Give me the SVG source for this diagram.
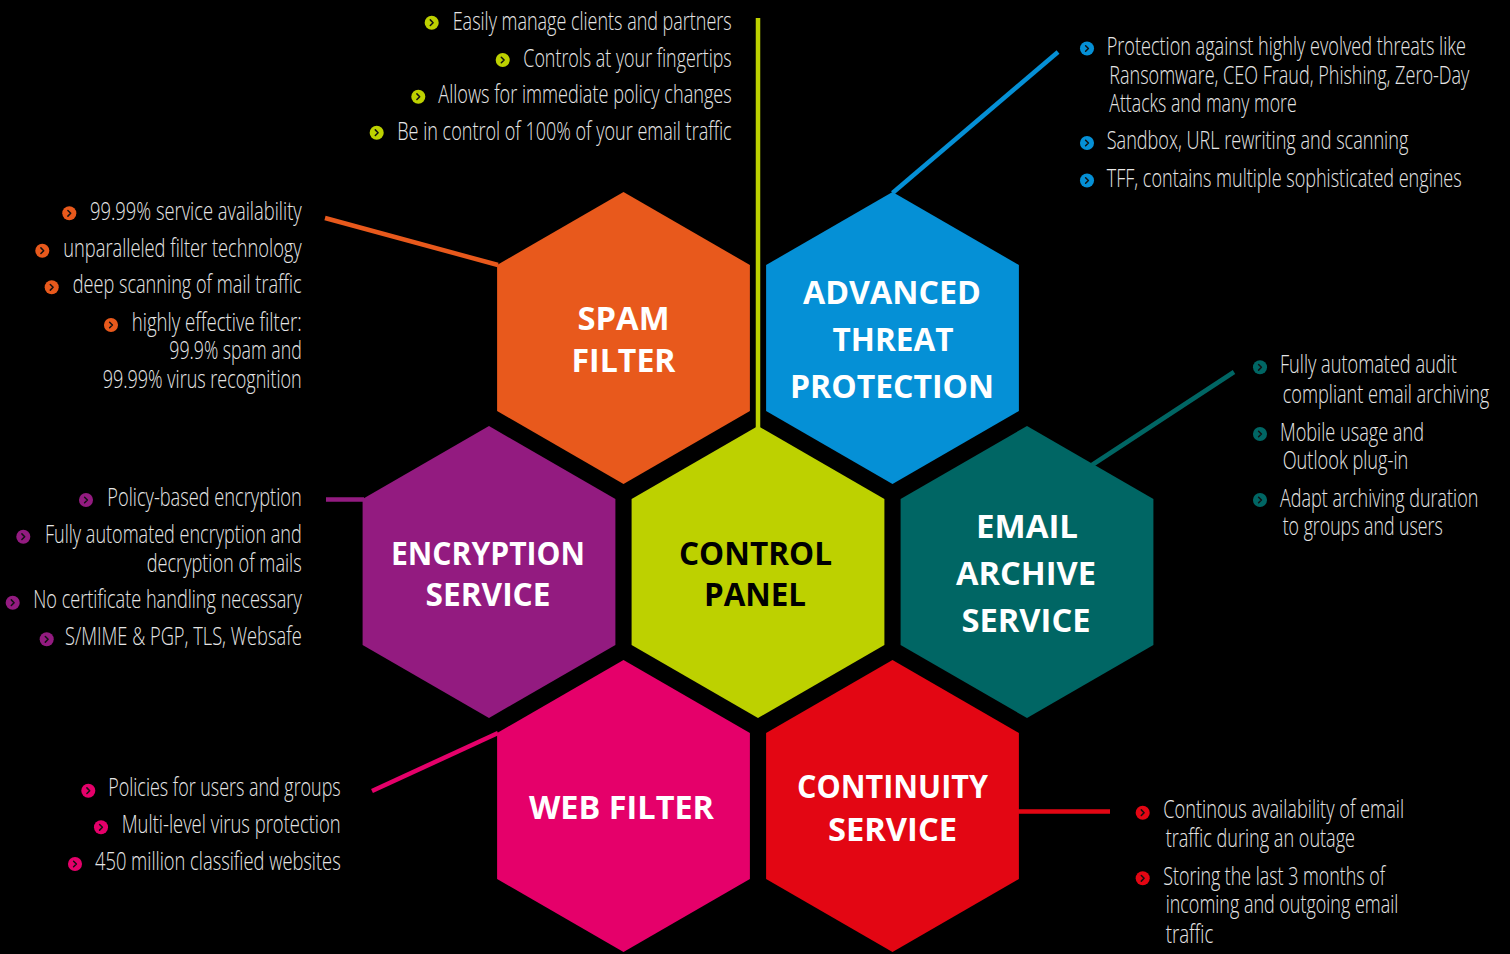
<svg xmlns="http://www.w3.org/2000/svg" width="1510" height="954" viewBox="0 0 1510 954">
<defs>
<style>
.bg{fill:#000}
.hx{stroke:none}
.lbl{font-family:"Open Sans","Liberation Sans",sans-serif;font-weight:700;fill:#fff;text-anchor:middle}
.dk{fill:#000}
.t{font-family:"Open Sans","Liberation Sans",sans-serif;font-weight:300;font-size:25px;fill:#e6e6e6}
.con{fill:none;stroke-width:4.5;stroke-linecap:butt}
.chev{fill:none;stroke:#111;stroke-width:1.6;stroke-linecap:round;stroke-linejoin:round}
</style>
<symbol id="bul" viewBox="-8 -8 16 16" overflow="visible">
<circle cx="0" cy="0" r="7.5" fill="currentColor"/>
<path class="chev" d="M-1.5,-3 L1.5,0 L-1.5,3"/>
</symbol>
</defs>
<rect class="bg" x="0" y="0" width="1510" height="954"/>

<g id="connectors">
<line class="con" stroke="#bdd100" stroke-width="5" x1="758" y1="18" x2="758" y2="428"/>
<line class="con" stroke="#e8591c" x1="325" y1="218" x2="498" y2="265"/>
<line class="con" stroke="#0590d6" x1="1058" y1="52" x2="892.5" y2="193"/>
<line class="con" stroke="#931b80" x1="326" y1="499.5" x2="364" y2="499.5"/>
<line class="con" stroke="#006664" x1="1234" y1="372" x2="1092" y2="465"/>
<line class="con" stroke="#e5006a" x1="372" y1="791" x2="498" y2="733"/>
<line class="con" stroke="#e30613" x1="1017" y1="811.5" x2="1110" y2="811.5"/>
</g>

<g id="spam-filter">
<polygon class="hx" fill="#e8591c" points="623.5,192 749.9,265 749.9,411 623.5,484 497.1,411 497.1,265"/>
<text class="lbl" font-size="33" x="623.5" y="330" textLength="92" lengthAdjust="spacingAndGlyphs">SPAM</text>
<text class="lbl" font-size="33" x="623.5" y="371.5" textLength="104" lengthAdjust="spacingAndGlyphs">FILTER</text>
</g>

<g id="advanced-threat-protection">
<polygon class="hx" fill="#0590d6" points="892.5,192 1018.9,265 1018.9,411 892.5,484 766.1,411 766.1,265"/>
<text class="lbl" font-size="33" x="892" y="303.5" textLength="178" lengthAdjust="spacingAndGlyphs">ADVANCED</text>
<text class="lbl" font-size="33" x="893" y="350.5" textLength="121" lengthAdjust="spacingAndGlyphs">THREAT</text>
<text class="lbl" font-size="33" x="892" y="397.5" textLength="204" lengthAdjust="spacingAndGlyphs">PROTECTION</text>
</g>

<g id="encryption-service">
<polygon class="hx" fill="#931b80" points="489,426 615.4,499 615.4,645 489,718 362.6,645 362.6,499"/>
<text class="lbl" font-size="32" x="488" y="564.5" textLength="194" lengthAdjust="spacingAndGlyphs">ENCRYPTION</text>
<text class="lbl" font-size="32" x="488" y="605.5" textLength="125" lengthAdjust="spacingAndGlyphs">SERVICE</text>
</g>

<g id="control-panel">
<polygon class="hx" fill="#bdd100" points="758,426 884.4,499 884.4,645 758,718 631.6,645 631.6,499"/>
<text class="lbl dk" font-size="32" x="755.5" y="564.5" textLength="153" lengthAdjust="spacingAndGlyphs">CONTROL</text>
<text class="lbl dk" font-size="32" x="755" y="605.5" textLength="102" lengthAdjust="spacingAndGlyphs">PANEL</text>
</g>

<g id="email-archive-service">
<polygon class="hx" fill="#006664" points="1027,426 1153.4,499 1153.4,645 1027,718 900.6,645 900.6,499"/>
<text class="lbl" font-size="32" x="1027" y="537.5" textLength="102" lengthAdjust="spacingAndGlyphs">EMAIL</text>
<text class="lbl" font-size="32" x="1026" y="585" textLength="140" lengthAdjust="spacingAndGlyphs">ARCHIVE</text>
<text class="lbl" font-size="32" x="1026" y="632" textLength="129" lengthAdjust="spacingAndGlyphs">SERVICE</text>
</g>

<g id="web-filter">
<polygon class="hx" fill="#e5006a" points="623.5,660 749.9,733 749.9,879 623.5,952 497.1,879 497.1,733"/>
<text class="lbl" font-size="33" x="621.5" y="819" textLength="185" lengthAdjust="spacingAndGlyphs">WEB FILTER</text>
</g>

<g id="continuity-service">
<polygon class="hx" fill="#e30613" points="892.5,660 1018.9,733 1018.9,879 892.5,952 766.1,879 766.1,733"/>
<text class="lbl" font-size="33" x="892.5" y="798" textLength="191" lengthAdjust="spacingAndGlyphs">CONTINUITY</text>
<text class="lbl" font-size="33" x="892.5" y="841" textLength="129" lengthAdjust="spacingAndGlyphs">SERVICE</text>
</g>

<g id="control-panel-notes" color="#bdd100">
<use href="#bul" x="424.2" y="15.2" width="15" height="15"/>
<use href="#bul" x="495.2" y="52.5" width="15" height="15"/>
<use href="#bul" x="410.8" y="89.2" width="15" height="15"/>
<use href="#bul" x="369.2" y="125.2" width="15" height="15"/>
<text class="t" x="452.7" y="29.5" textLength="279" lengthAdjust="spacingAndGlyphs">Easily manage clients and partners</text>
<text class="t" x="523.3" y="66.5" textLength="208.4" lengthAdjust="spacingAndGlyphs">Controls at your fingertips</text>
<text class="t" x="438.3" y="102.5" textLength="293.4" lengthAdjust="spacingAndGlyphs">Allows for immediate policy changes</text>
<text class="t" x="397.3" y="139.5" textLength="334.4" lengthAdjust="spacingAndGlyphs">Be in control of 100% of your email traffic</text>
</g>

<g id="spam-filter-notes" color="#e8591c">
<use href="#bul" x="61.8" y="205.8" width="15" height="15"/>
<use href="#bul" x="34.8" y="243.2" width="15" height="15"/>
<use href="#bul" x="44.2" y="279.8" width="15" height="15"/>
<use href="#bul" x="103.5" y="317.5" width="15" height="15"/>
<text class="t" x="90" y="220" textLength="211.7" lengthAdjust="spacingAndGlyphs">99.99% service availability</text>
<text class="t" x="63.3" y="256.7" textLength="238.4" lengthAdjust="spacingAndGlyphs">unparalleled filter technology</text>
<text class="t" x="72.7" y="293.3" textLength="229" lengthAdjust="spacingAndGlyphs">deep scanning of mail traffic</text>
<text class="t" x="131.7" y="330.7" textLength="170" lengthAdjust="spacingAndGlyphs">highly effective filter:</text>
<text class="t" x="169.3" y="359.3" textLength="132.4" lengthAdjust="spacingAndGlyphs">99.9% spam and</text>
<text class="t" x="102.7" y="388.3" textLength="199" lengthAdjust="spacingAndGlyphs">99.99% virus recognition</text>
</g>

<g id="atp-notes" color="#0590d6">
<use href="#bul" x="1079.5" y="41" width="15" height="15"/>
<use href="#bul" x="1079.5" y="135.5" width="15" height="15"/>
<use href="#bul" x="1079.5" y="173" width="15" height="15"/>
<text class="t" x="1106.7" y="55" textLength="359.3" lengthAdjust="spacingAndGlyphs">Protection against highly evolved threats like</text>
<text class="t" x="1109.3" y="83.5" textLength="360" lengthAdjust="spacingAndGlyphs">Ransomware, CEO Fraud, Phishing, Zero-Day</text>
<text class="t" x="1109.3" y="111.7" textLength="187.4" lengthAdjust="spacingAndGlyphs">Attacks and many more</text>
<text class="t" x="1106.7" y="149.3" textLength="301.6" lengthAdjust="spacingAndGlyphs">Sandbox, URL rewriting and scanning</text>
<text class="t" x="1106.7" y="186.7" textLength="355" lengthAdjust="spacingAndGlyphs">TFF, contains multiple sophisticated engines</text>
</g>

<g id="encryption-notes" color="#931b80">
<use href="#bul" x="78.5" y="492.5" width="15" height="15"/>
<use href="#bul" x="15.8" y="529.2" width="15" height="15"/>
<use href="#bul" x="5.2" y="595.2" width="15" height="15"/>
<use href="#bul" x="39.2" y="631.8" width="15" height="15"/>
<text class="t" x="107.3" y="506" textLength="194.4" lengthAdjust="spacingAndGlyphs">Policy-based encryption</text>
<text class="t" x="45" y="542.7" textLength="256.7" lengthAdjust="spacingAndGlyphs">Fully automated encryption and</text>
<text class="t" x="146.7" y="571.7" textLength="155" lengthAdjust="spacingAndGlyphs">decryption of mails</text>
<text class="t" x="33.3" y="608.3" textLength="268.4" lengthAdjust="spacingAndGlyphs">No certificate handling necessary</text>
<text class="t" x="65" y="645" textLength="236.7" lengthAdjust="spacingAndGlyphs">S/MIME &amp; PGP, TLS, Websafe</text>
</g>

<g id="archive-notes" color="#006664">
<use href="#bul" x="1252.5" y="359.8" width="15" height="15"/>
<use href="#bul" x="1252.5" y="426.5" width="15" height="15"/>
<use href="#bul" x="1252.5" y="492.5" width="15" height="15"/>
<text class="t" x="1280" y="373.3" textLength="176.7" lengthAdjust="spacingAndGlyphs">Fully automated audit</text>
<text class="t" x="1282.7" y="403.3" textLength="206.6" lengthAdjust="spacingAndGlyphs">compliant email archiving</text>
<text class="t" x="1280" y="440.7" textLength="144" lengthAdjust="spacingAndGlyphs">Mobile usage and</text>
<text class="t" x="1282.7" y="469.3" textLength="125.6" lengthAdjust="spacingAndGlyphs">Outlook plug-in</text>
<text class="t" x="1280" y="506.7" textLength="198.3" lengthAdjust="spacingAndGlyphs">Adapt archiving duration</text>
<text class="t" x="1282.7" y="535" textLength="160" lengthAdjust="spacingAndGlyphs">to groups and users</text>
</g>

<g id="web-filter-notes" color="#e5006a">
<use href="#bul" x="80.8" y="783.2" width="15" height="15"/>
<use href="#bul" x="93.5" y="819.8" width="15" height="15"/>
<use href="#bul" x="67.5" y="856.5" width="15" height="15"/>
<text class="t" x="108.3" y="796" textLength="232.4" lengthAdjust="spacingAndGlyphs">Policies for users and groups</text>
<text class="t" x="121.7" y="833.3" textLength="219" lengthAdjust="spacingAndGlyphs">Multi-level virus protection</text>
<text class="t" x="95" y="870" textLength="245.7" lengthAdjust="spacingAndGlyphs">450 million classified websites</text>
</g>

<g id="continuity-notes" color="#e30613">
<use href="#bul" x="1135.2" y="805.2" width="15" height="15"/>
<use href="#bul" x="1135.2" y="870.8" width="15" height="15"/>
<text class="t" x="1163.3" y="818.3" textLength="240.7" lengthAdjust="spacingAndGlyphs">Continous availability of email</text>
<text class="t" x="1165.7" y="846.7" textLength="189.3" lengthAdjust="spacingAndGlyphs">traffic during an outage</text>
<text class="t" x="1163.3" y="885" textLength="221.7" lengthAdjust="spacingAndGlyphs">Storing the last 3 months of</text>
<text class="t" x="1165.7" y="913.3" textLength="232.6" lengthAdjust="spacingAndGlyphs">incoming and outgoing email</text>
<text class="t" x="1165.7" y="942.7" textLength="47.6" lengthAdjust="spacingAndGlyphs">traffic</text>
</g>
</svg>
